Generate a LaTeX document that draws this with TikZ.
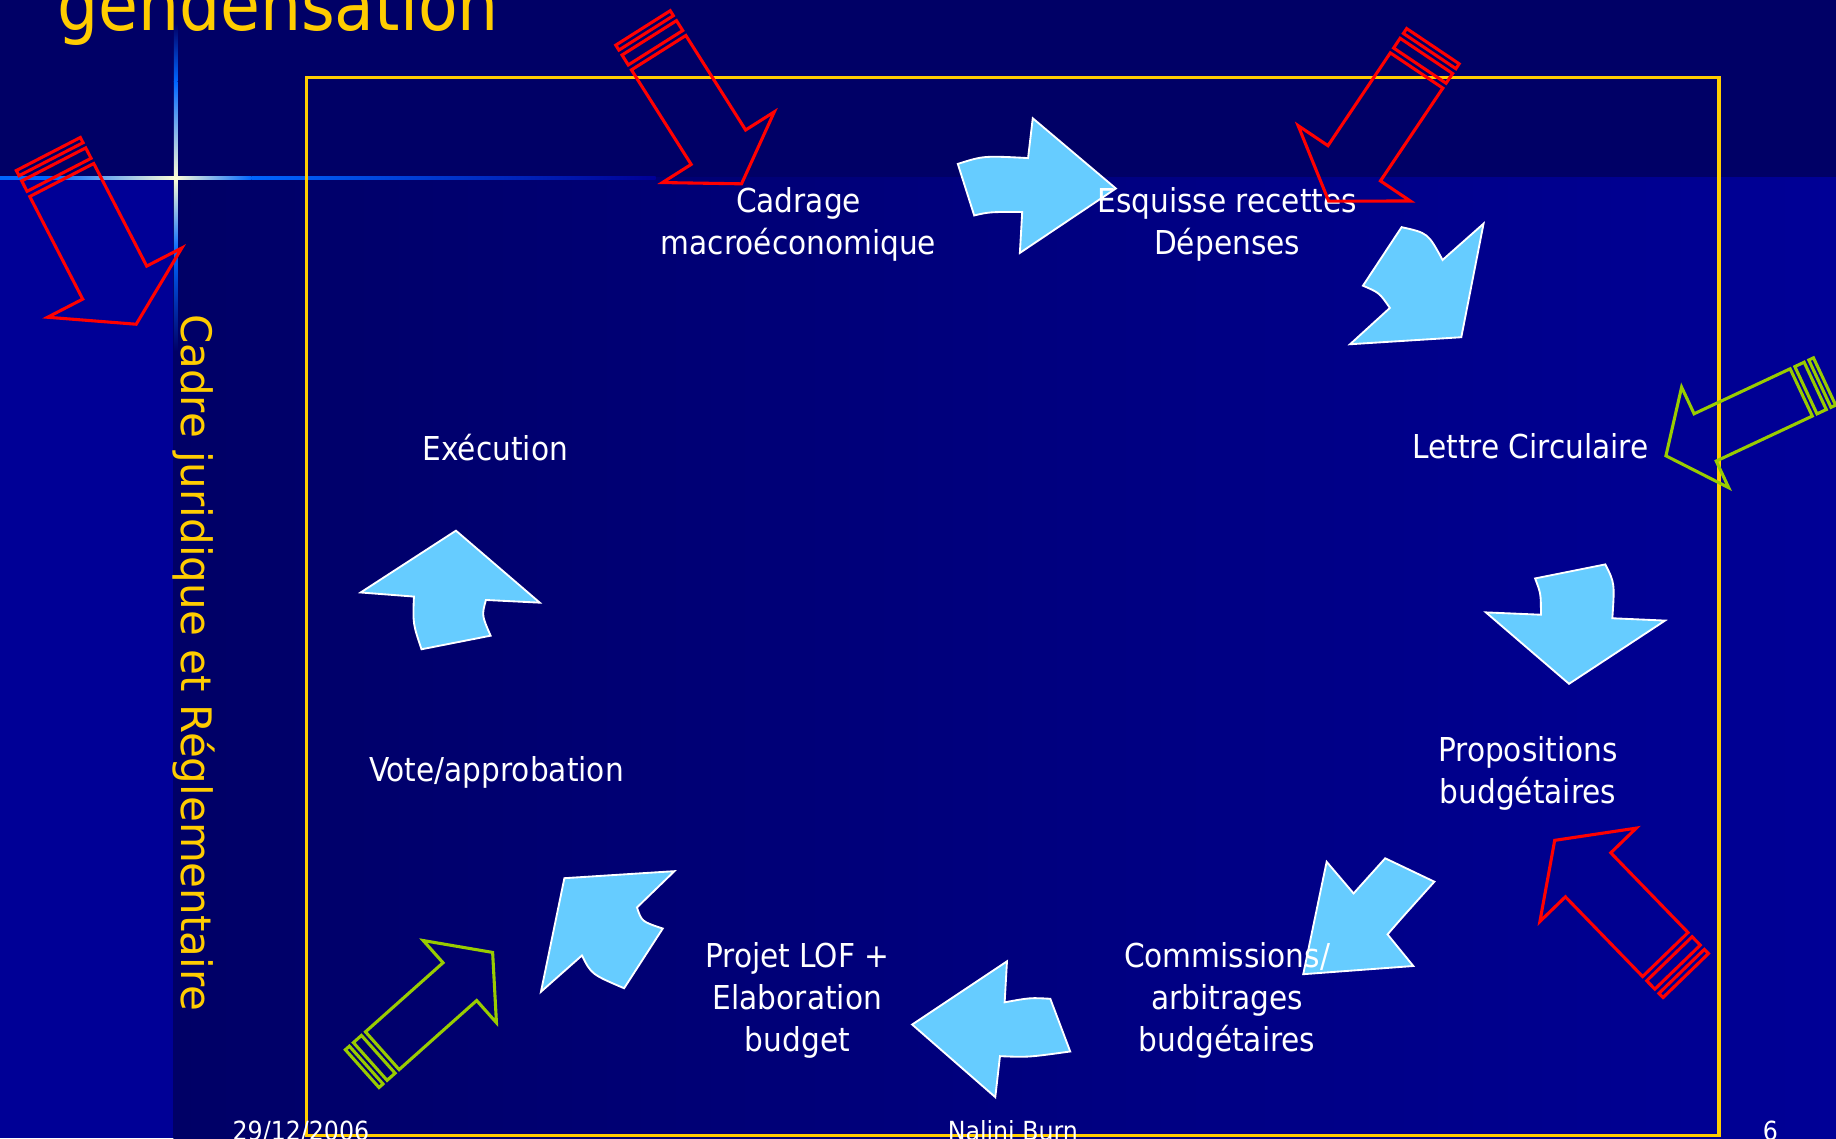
\documentclass[tikz,border=0pt]{standalone}
\usepackage{fontspec}
\setmainfont{DejaVu Sans Condensed}
\newfontfamily\widefont{DejaVu Sans}
\definecolor{navydark}{RGB}{0,0,102}
\definecolor{navylight}{RGB}{0,0,150}
\definecolor{skyarrow}{RGB}{102,204,255}
\definecolor{framegold}{RGB}{255,204,0}
\definecolor{limearrow}{RGB}{153,204,0}
\definecolor{glowblue}{RGB}{0,102,255}
\definecolor{glowwhite}{RGB}{255,255,215}

\begin{document}
\begin{tikzpicture}[x=0.1mm, y=-0.1mm,
		skyshape/.style={fill=skyarrow, draw=white, line width=0.45pt},
		lbl/.style={text=white, align=center, anchor=base, inner sep=0pt, font=\fontsize{8}{10.2}\selectfont},
		foot/.style={text=white, anchor=base, inner sep=0pt, font=\fontsize{6.4}{7.7}\selectfont},
		outlinered/.style={color=red, line width=0.75pt},
		outlinelime/.style={color=limearrow, line width=0.75pt},
		shaftw/.store in=\shaftw, shaftl/.store in=\shaftl,
		headw/.store in=\headw, headl/.store in=\headl, stripel/.store in=\stripel,
		stripedarrow/.pic={
			\draw (0,-\shaftw) -- (\shaftl,-\shaftw) -- (\shaftl,-\headw) -- ({\shaftl+\headl},0) -- (\shaftl,\headw) -- (\shaftl,\shaftw) -- (0,\shaftw) -- cycle;
			\draw ({-0.6*\stripel},-\shaftw) rectangle ({-0.2*\stripel},\shaftw);
			\draw (-\stripel,-\shaftw) rectangle ({-0.8*\stripel},\shaftw);
		}]
		\useasboundingbox (0,0) rectangle (1568,972);
		\clip (0,0) rectangle (1568,972);
		\fill[navylight] (0,0) rectangle (1568,972);
		\fill[navydark] (0,0) rectangle (1568,152);
		\shade[left color=navydark, right color=navylight] (148,152) rectangle (1568,972);
		\fill[glowblue] (0,150.5) rectangle (45,153.5);
		\shade[left color=glowblue, right color=glowwhite] (45,150.5) rectangle (150,153.5);
		\shade[left color=glowwhite, right color=glowblue] (150,150.5) rectangle (215,153.5);
		\shade[left color=glowblue, right color=navylight] (215,150.5) rectangle (560,153.5);
		\shade[top color=navydark, bottom color=glowblue] (148.5,20) rectangle (151.5,70);
		\shade[top color=glowblue, bottom color=glowwhite] (148.5,70) rectangle (151.5,152);
		\shade[top color=glowwhite, bottom color=glowblue] (148.5,152) rectangle (151.5,215);
		\shade[top color=glowblue, bottom color=navydark] (148.5,215) rectangle (151.5,300);
		\draw[framegold, line width=0.8pt] (262,66) rectangle (1468,970);
		\node[anchor=base west, inner sep=0pt, text=framegold, font=\fontsize{17.5}{21}\selectfont] (title) at (48,26) {gendensation};
		\node[rotate=-90, inner sep=0pt, text=framegold, font=\widefont\fontsize{10.2}{12}\selectfont] (cadrejur) at (166,566) {Cadre juridique et Réglementaire};
		\draw[skyshape] (818,140) .. controls (840,133) .. (878,135) -- (882,101) -- (953,161) -- (871,216) -- (873,181) .. controls (845,181) .. (832,184) -- cycle;
		\draw[skyshape] (1197,194) .. controls (1219.5,199) .. (1232,222) -- (1267,191) -- (1248,288) -- (1153,294) -- (1187,263) .. controls (1178,250) .. (1164,244) -- cycle;
		\draw[skyshape] (1311,494) -- (1371,482) .. controls (1379,498) .. (1377,528) -- (1422,530) -- (1340,584) -- (1269,523) -- (1316,525) .. controls (1316,507) .. (1311,494) -- cycle;
		\draw[skyshape] (1183,733) -- (1225,753) .. controls (1198,783) .. (1185,798) -- (1207,825) -- (1113,832) -- (1133,736) -- (1156,763) -- cycle;
		\draw[skyshape] (860,821) -- (858,856) .. controls (880,852) .. (897,853) -- (914,898) .. controls (878,903) .. (854,902) -- (850,937) -- (779,875) -- cycle;
		\draw[skyshape] (482,750) -- (576,744) -- (544,775) .. controls (548,787) .. (566,793) -- (533,844) .. controls (505,832) .. (497,816) -- (462,847) -- cycle;
		\draw[skyshape] (308,506) -- (389.4,453.2) -- (461,514.7) -- (415,512.4) .. controls (411.4,525.5) .. (419,542.9) -- (360,554.5) .. controls (352.6,532.6) .. (353.5,509.5) -- cycle;
		\node[lbl] (cadrage) at (682,217) {Cadrage\\macroéconomique};
		\node[lbl] (esquisse) at (1048,217) {Esquisse recettes\\Dépenses};
		\node[lbl] (lettre) at (1307,392) {Lettre Circulaire};
		\node[lbl] (propositions) at (1305,686) {Propositions\\budgétaires};
		\node[lbl] (commissions) at (1048,898) {Commissions/\\arbitrages\\budgétaires};
		\node[lbl] (projet) at (681,898) {Projet LOF +\\Elaboration\\budget};
		\node[lbl] (vote) at (424,667) {Vote/approbation};
		\node[lbl] (execution) at (423,393) {Exécution};
		\node[foot, anchor=base west] (date) at (198,974) {29/12/2006};
		\node[foot] (author) at (865,974) {Nalini Burn};
		\node[foot] (pagenum) at (1512,974) {6};
		\pic[outlinered, rotate=-62.7, shaftw=30.75, shaftl=98.6, headw=64.5, headl=40, stripel=25] at (52.75,153.75) {stripedarrow};
		\pic[outlinered, rotate=-57.7, shaftw=27.5, shaftl=95.5, headw=56.5, headl=37, stripel=25] at (562.5,45) {stripedarrow};
		\pic[outlinered, rotate=-123.9, shaftw=27, shaftl=95.5, headw=57.7, headl=39, stripel=25] at (1209.8,60.2) {stripedarrow};
		\pic[outlinelime, rotate=-154.9, shaftw=22.3, shaftl=90.6, headw=47.4, headl=37, stripel=22] at (1538.3,335.15) {stripedarrow};
		\pic[outlinered, rotate=134.1, shaftw=27, shaftl=94.8, headw=57.3, headl=41, stripel=25] at (1422.25,815.2) {stripedarrow};
		\pic[outlinelime, rotate=41.7, shaftw=21.6, shaftl=88.7, headw=47, headl=37.5, stripel=23] at (326.5,897.35) {stripedarrow};
\end{tikzpicture}
\end{document}
